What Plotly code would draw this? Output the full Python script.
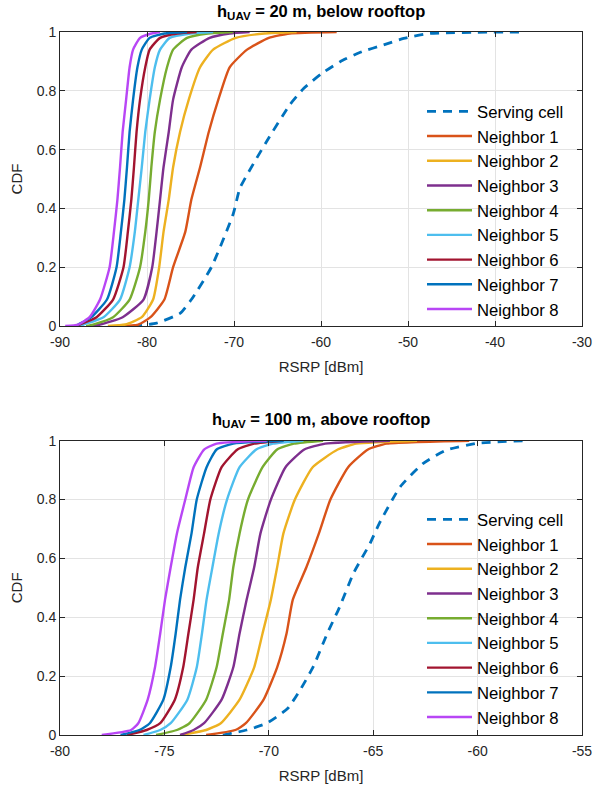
import plotly.graph_objects as go

# ---------------- data ----------------
names = ["Serving cell", "Neighbor 1", "Neighbor 2", "Neighbor 3", "Neighbor 4",
         "Neighbor 5", "Neighbor 6", "Neighbor 7", "Neighbor 8"]
colors = ["#0072BD", "#D95319", "#EDB120", "#7E2F8E", "#77AC30",
          "#4DBEEE", "#A2142F", "#0072BD", "#B846F5"]

# Top panel: h_UAV = 20 m
serving_top_x = [-81.6, -78.9, -76.2, -74.9, -72.6, -70.1, -69.3, -66.2, -63.6,
                 -62.0, -59.9, -57.8, -55.3, -52.8, -50.5, -47.5, -36.8]
serving_top_cdf = [0, 0.01, 0.043, 0.09, 0.2, 0.38, 0.47, 0.63, 0.752,
                   0.808, 0.859, 0.899, 0.933, 0.956, 0.978, 0.995, 1.0]

cdf_top = [0, 0.005, 0.03, 0.09, 0.2, 0.32, 0.43, 0.54, 0.66, 0.77, 0.88, 0.94, 0.98, 0.995, 1.0]
n1_top = [-83.5, -81.0, -79.6, -78.0, -77.0, -75.6, -74.9, -73.9, -72.9, -71.8, -70.5, -68.5, -66.0, -63.6, -58.2]
n2_top = [-84.5, -82.5, -80.6, -79.3, -78.6, -78.1, -77.5, -77.0, -76.2, -75.2, -73.9, -72.4, -69.8, -66.5, -62.8]
n3_top = [-86.5, -85.4, -82.8, -80.4, -79.4, -78.9, -78.5, -78.1, -77.5, -77.0, -76.0, -74.9, -72.8, -70.5, -68.2]
n4_top = [-87.0, -86.2, -83.9, -82.0, -80.8, -80.2, -79.8, -79.5, -79.1, -78.5, -77.7, -77.0, -75.4, -73.0, -70.1]
n5_top = [-87.8, -87.3, -85.0, -83.1, -82.0, -81.4, -81.0, -80.6, -80.2, -79.7, -79.1, -78.5, -77.4, -75.0, -72.4]
n6_top = [-88.0, -87.7, -85.8, -83.9, -82.7, -82.2, -81.8, -81.5, -81.2, -80.8, -80.2, -79.7, -78.5, -76.5, -74.3]
n7_top = [-88.2, -87.9, -86.4, -84.6, -83.5, -83.0, -82.6, -82.3, -82.0, -81.6, -81.1, -80.6, -79.7, -78.0, -75.4]
n8_top = [-89.4, -87.9, -86.6, -85.4, -84.3, -83.8, -83.4, -83.1, -82.8, -82.4, -82.0, -81.6, -80.8, -79.5, -78.5]

# Bottom panel: h_UAV = 100 m
serving_bot_x = [-72.2, -71.06, -70.1, -69.1, -68.5, -67.87, -67.2, -66.6, -65.95,
                 -65.15, -64.7, -63.7, -62.6, -61.5, -60.05, -57.8]
serving_bot_cdf = [0, 0.017, 0.04, 0.09, 0.153, 0.232, 0.345, 0.436, 0.549,
                   0.651, 0.72, 0.844, 0.923, 0.968, 0.991, 1.0]

cdf_bot = [0, 0.017, 0.04, 0.12, 0.23, 0.345, 0.46, 0.57, 0.685, 0.8, 0.91, 0.97, 0.99, 1.0]
n1_bot = [-73.0, -71.6, -71.1, -70.25, -69.6, -69.15, -68.85, -68.2, -67.6, -67.05, -66.2, -65.25, -64.35, -60.4]
n2_bot = [-74.2, -73.0, -72.3, -71.4, -70.7, -70.3, -69.9, -69.6, -69.3, -68.75, -67.9, -66.7, -65.8, -62.9]
n3_bot = [-74.25, -73.6, -73.1, -72.26, -71.7, -71.4, -71.06, -70.7, -70.4, -69.9, -69.2, -68.3, -67.3, -64.2]
n4_bot = [-75.4, -74.4, -73.8, -73.0, -72.5, -72.2, -71.9, -71.7, -71.4, -71.0, -70.3, -69.6, -68.8, -67.4]
n5_bot = [-76.0, -75.2, -74.7, -73.9, -73.45, -73.2, -72.98, -72.7, -72.4, -72.0, -71.4, -70.6, -69.8, -68.35]
n6_bot = [-76.8, -75.85, -75.2, -74.5, -74.1, -73.85, -73.6, -73.4, -73.1, -72.8, -72.26, -71.5, -70.7, -69.3]
n7_bot = [-77.1, -76.2, -75.7, -75.05, -74.7, -74.46, -74.25, -74.0, -73.7, -73.45, -72.98, -72.5, -71.7, -69.3]
n8_bot = [-78.0, -76.6, -76.25, -75.8, -75.45, -75.2, -74.97, -74.7, -74.4, -74.0, -73.6, -73.1, -72.5, -70.1]

panel_titles = ["<b>h<sub>UAV</sub> = 20 m, below rooftop</b>",
                "<b>h<sub>UAV</sub> = 100 m, above rooftop</b>"]
x_ticks_top = [-90, -80, -70, -60, -50, -40, -30]
x_ticks_bot = [-80, -75, -70, -65, -60, -55]
y_ticks = [0, 0.2, 0.4, 0.6, 0.8, 1]
y_ticklabels = ["0", "0.2", "0.4", "0.6", "0.8", "1"]

# ---------------- figure ----------------
FONT = "Liberation Sans, Arial, Helvetica, sans-serif"
TXT = "#262626"
fig = go.Figure()

top_series = [(serving_top_x, serving_top_cdf)] + [(s, cdf_top) for s in
              [n1_top, n2_top, n3_top, n4_top, n5_top, n6_top, n7_top, n8_top]]
bot_series = [(serving_bot_x, serving_bot_cdf)] + [(s, cdf_bot) for s in
              [n1_bot, n2_bot, n3_bot, n4_bot, n5_bot, n6_bot, n7_bot, n8_bot]]

for panel, series in enumerate([top_series, bot_series]):
    xa = "x" if panel == 0 else "x2"
    ya = "y" if panel == 0 else "y2"
    lg = "legend" if panel == 0 else "legend2"
    for i, (xs, ys) in enumerate(series):
        dash = "9px,7px" if i == 0 else "solid"
        fig.add_trace(go.Scatter(
            x=xs, y=ys, mode="lines", name=names[i],
            line=dict(color=colors[i], width=2.8 if i == 0 else 2.4, dash=dash,
                      shape="spline", smoothing=0.5),
            xaxis=xa, yaxis=ya, legend=lg, showlegend=True))

W, H = 594, 787
L, R, T, B = 60, 582, 32, 735  # plot area in pixels
def fx(p):
    return (p - L) / (R - L)
def fy(p):
    return (B - p) / (B - T)

axis_common = dict(showline=True, linecolor="#262626", linewidth=1, mirror="ticks",
                   ticks="inside", ticklen=5, tickcolor="#262626",
                   showgrid=True, gridcolor="#E3E3E3", gridwidth=1,
                   zeroline=False, automargin=False,
                   tickfont=dict(family=FONT, size=14, color=TXT))
title_font = dict(family=FONT, size=15, color=TXT)
legend_font = dict(family=FONT, size=16.7, color="#000000")

fig.update_layout(
    width=W, height=H, margin=dict(l=L, r=W - R, t=T, b=H - B, autoexpand=False),
    paper_bgcolor="white", plot_bgcolor="white",
    font=dict(family=FONT, color=TXT),
    xaxis=dict(domain=[0, 1], range=[-90, -30], tickvals=x_ticks_top,
               ticktext=[str(v) for v in x_ticks_top], anchor="y", ticklabelstandoff=3,
               title=dict(text="RSRP [dBm]", font=title_font, standoff=12),
               **axis_common),
    yaxis=dict(domain=[fy(326), 1], range=[0, 1], tickvals=y_ticks,
               ticktext=y_ticklabels, anchor="x",
               title=dict(text="CDF", font=title_font, standoff=10),
               **axis_common),
    xaxis2=dict(domain=[0, 1], range=[-80, -55], tickvals=x_ticks_bot,
                ticktext=[str(v) for v in x_ticks_bot], anchor="y2", ticklabelstandoff=3,
                title=dict(text="RSRP [dBm]", font=title_font, standoff=12),
                **axis_common),
    yaxis2=dict(domain=[0, fy(440.7)], range=[0, 1], tickvals=y_ticks,
                ticktext=y_ticklabels, anchor="x2",
                title=dict(text="CDF", font=title_font, standoff=10),
                **axis_common),
    legend=dict(x=fx(422), y=fy(94), xanchor="left", yanchor="top",
                bgcolor="rgba(0,0,0,0)", borderwidth=0, itemwidth=45,
                font=legend_font, tracegroupgap=0),
    legend2=dict(x=fx(422), y=fy(502), xanchor="left", yanchor="top",
                 bgcolor="rgba(0,0,0,0)", borderwidth=0, itemwidth=45,
                 font=legend_font, tracegroupgap=0),
    annotations=[
        dict(text=panel_titles[0], x=fx(321), y=fy(12), xref="paper", yref="paper",
             showarrow=False, xanchor="center", yanchor="middle",
             font=dict(family=FONT, size=16.5, color="#000000")),
        dict(text=panel_titles[1], x=fx(321), y=fy(420), xref="paper", yref="paper",
             showarrow=False, xanchor="center", yanchor="middle",
             font=dict(family=FONT, size=16.5, color="#000000")),
    ],
)

fig.write_html("out.html", config={"displayModeBar": False},
               post_script="document.body.style.margin='0';document.body.style.overflow='hidden';")
